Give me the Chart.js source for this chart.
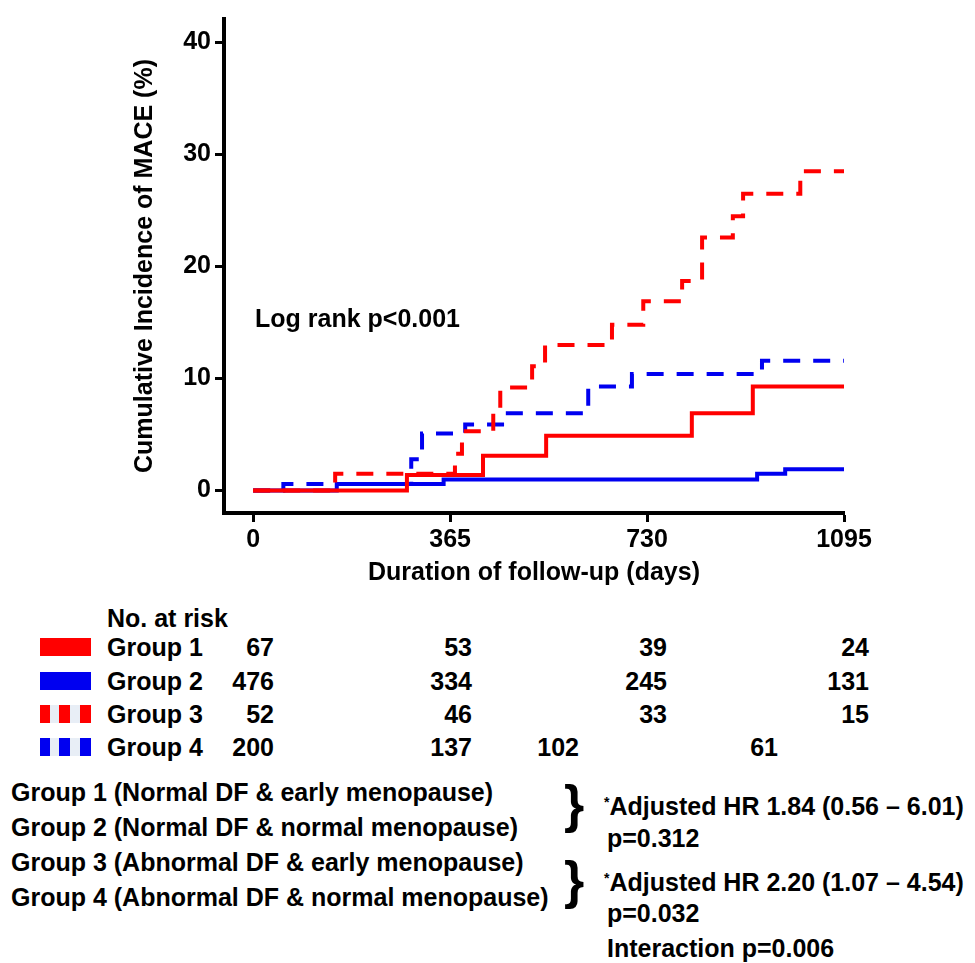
<!DOCTYPE html>
<html>
<head>
<meta charset="utf-8">
<script src="https://cdn.jsdelivr.net/npm/chart.js@4.4.1/dist/chart.umd.min.js"></script>
<style>
  body { margin: 0; background: #fff; }
  #page { position: relative; width: 975px; height: 963px; font-family: "Liberation Sans", Arial, sans-serif; font-weight: bold; color: #000; }
  #page canvas { position: absolute; left: 0; top: 0; }
  .t { position: absolute; font-size: 25px; line-height: 30px; white-space: nowrap; }
  .num { position: absolute; font-size: 25px; line-height: 30px; text-align: right; width: 80px; }
  .sw { position: absolute; left: 40px; width: 51px; height: 18px; }
  .brace { position: absolute; font-size: 52px; line-height: 52px; font-weight: bold; }
  sup { font-size: 14px; vertical-align: top; position: relative; top: -4px; }
</style>
</head>
<body>
<div id="page">
  <canvas id="kmChart" width="975" height="600"></canvas>

  <div class="t" style="left:255px; top:303px;">Log rank p&lt;0.001</div>

  <div class="t" style="left:107px; top:603px;">No. at risk</div>
  <div class="sw" style="top:638px; background:#ff0000;"></div>
  <div class="sw" style="top:672px; background:#0000f0;"></div>
  <div class="sw" style="top:705px; background:linear-gradient(to right,#ff0000 0 10px,#e8eef6 10px 19px,#ff0000 19px 30px,#e8eef6 30px 40px,#ff0000 40px 51px);"></div>
  <div class="sw" style="top:738px; background:linear-gradient(to right,#0000f0 0 10px,#e8eef6 10px 19px,#0000f0 19px 30px,#e8eef6 30px 40px,#0000f0 40px 51px);"></div>
  <div id="riskRows"></div>

  <div class="t" style="left:11px; top:777px;">Group 1 (Normal DF &amp; early menopause)</div>
  <div class="t" style="left:11px; top:812px;">Group 2 (Normal DF &amp; normal menopause)</div>
  <div class="t" style="left:11px; top:847px;">Group 3 (Abnormal DF &amp; early menopause)</div>
  <div class="t" style="left:11px; top:882px;">Group 4 (Abnormal DF &amp; normal menopause)</div>
  <div class="brace" style="left:564px; top:778px;">}</div>
  <div class="brace" style="left:564px; top:854px;">}</div>
  <div class="t" style="left:604px; top:791px;"><sup>*</sup>Adjusted HR 1.84 (0.56 – 6.01)</div>
  <div class="t" style="left:607px; top:823px;">p=0.312</div>
  <div class="t" style="left:604px; top:867px;"><sup>*</sup>Adjusted HR 2.20 (1.07 – 4.54)</div>
  <div class="t" style="left:607px; top:898px;">p=0.032</div>
  <div class="t" style="left:607px; top:933px;">Interaction p=0.006</div>
</div>

<script>
// step curves: day of each event and cumulative incidence (%) after it
const g1Days = [0, 285, 426, 543, 813, 926, 1095];
const g1Pct  = [0, 1.4, 3.1, 4.9, 6.9, 9.3, 9.3];

const g2Days = [0, 155, 353, 934, 986, 1095];
const g2Pct  = [0, 0.6, 1.0, 1.5, 1.9, 1.9];

const g3Days = [0, 152, 374, 387, 445, 458, 517, 541, 665, 723, 795, 832, 889, 908, 1014, 1095];
const g3Pct  = [0, 1.5, 3.3, 5.3, 7.0, 9.2, 11.1, 13.0, 14.8, 16.9, 18.7, 22.6, 24.5, 26.5, 28.5, 28.5];

const g4Days = [0, 56, 293, 313, 393, 472, 621, 702, 943, 1095];
const g4Pct  = [0, 0.6, 2.8, 5.1, 5.9, 6.9, 9.3, 10.4, 11.6, 11.6];

const xTicks = [0, 365, 730, 1095];
const yTicks = [0, 10, 20, 30, 40];

// numbers at risk table
const riskGroups = ['Group 1', 'Group 2', 'Group 3', 'Group 4'];
const riskG1 = [67, 53, 39, 24];
const riskG2 = [476, 334, 245, 131];
const riskG3 = [52, 46, 33, 15];
const riskG4 = [200, 137, 102, 61];

const RED = '#ff0000';
const BLUE = '#0000f0';

function toPoints(days, pct) {
    return days.map((d, i) => ({ x: d, y: pct[i] }));
}

function buildRiskTable() {
    const holder = document.getElementById('riskRows');
    const rows = [riskG1, riskG2, riskG3, riskG4];
    const rowTop = [632, 666, 699, 732];
    const colRight = [[274, 472, 667, 869], [274, 472, 667, 869], [274, 472, 667, 869], [274, 472, 579, 778]];
    rows.forEach((vals, r) => {
        const lab = document.createElement('div');
        lab.className = 't';
        lab.style.left = '107px';
        lab.style.top = rowTop[r] + 'px';
        lab.textContent = riskGroups[r];
        holder.appendChild(lab);
        vals.forEach((v, c) => {
            const n = document.createElement('div');
            n.className = 'num';
            n.style.left = (colRight[r][c] - 80) + 'px';
            n.style.top = rowTop[r] + 'px';
            n.textContent = v;
            holder.appendChild(n);
        });
    });
}

document.addEventListener('DOMContentLoaded', function() {
    buildRiskTable();

    const font = { family: '"Liberation Sans", Arial, sans-serif', size: 25, weight: 'bold' };
    const ctx = document.getElementById('kmChart').getContext('2d');
    new Chart(ctx, {
        type: 'line',
        data: {
            datasets: [
                { label: 'Group 1', data: toPoints(g1Days, g1Pct), borderColor: RED },
                { label: 'Group 3', data: toPoints(g3Days, g3Pct), borderColor: RED, borderDash: [17, 13] },
                { label: 'Group 2', data: toPoints(g2Days, g2Pct), borderColor: BLUE },
                { label: 'Group 4', data: toPoints(g4Days, g4Pct), borderColor: BLUE, borderDash: [17, 13] }
            ]
        },
        options: {
            responsive: false,
            animation: false,
            layout: { padding: { left: 0, top: 8, right: 131, bottom: 12 } },
            datasets: {
                line: { stepped: 'before', borderWidth: 4, pointRadius: 0, fill: false, borderCapStyle: 'butt' }
            },
            plugins: { legend: { display: false }, tooltip: { enabled: false } },
            scales: {
                x: {
                    type: 'linear',
                    min: -54,
                    max: 1095,
                    afterBuildTicks: s => { s.ticks = xTicks.map(v => ({ value: v })); },
                    afterFit: s => { s.height = 75; },
                    ticks: { color: '#000', font: font, padding: 3, maxRotation: 0, callback: v => String(v) },
                    grid: { drawOnChartArea: false, drawTicks: true, tickLength: 9, tickColor: '#000', tickWidth: 3 },
                    border: { display: true, color: '#000', width: 4 },
                    title: { display: true, text: 'Duration of follow-up (days)', color: '#000', font: font, padding: 0 }
                },
                y: {
                    type: 'linear',
                    min: -2,
                    max: 42.1,
                    afterBuildTicks: s => { s.ticks = yTicks.map(v => ({ value: v })); },
                    afterFit: s => { s.width = 224; },
                    ticks: { color: '#000', font: font, padding: 4, callback: v => String(v) },
                    grid: { drawOnChartArea: false, drawTicks: true, tickLength: 9, tickColor: '#000', tickWidth: 3 },
                    border: { display: true, color: '#000', width: 4 },
                    title: { display: true, text: 'Cumulative Incidence of MACE (%)', color: '#000', font: font, padding: { top: 130, bottom: 0 } }
                }
            }
        }
    });
});
</script>
</body>
</html>
